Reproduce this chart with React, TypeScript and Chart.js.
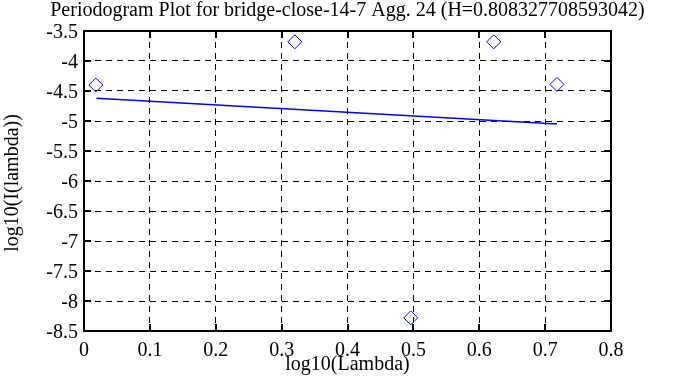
import React, { useEffect, useRef } from "react";
import { Chart, registerables } from "chart.js";

Chart.register(...registerables);

const titleText = "Periodogram Plot for bridge-close-14-7 Agg. 24 (H=0.808327708593042)";
const xAxisTitle = "log10(Lambda)";
const yAxisTitle = "log10(I(lambda))";

const logLambda = [0.018, 0.32, 0.496, 0.622, 0.718];
const logPeriodogram = [-4.4, -3.68, -8.28, -3.68, -4.39];

const fitX = [0.019, 0.718];
const fitY = [-4.62, -5.05];

const xTicks = [0, 0.1, 0.2, 0.3, 0.4, 0.5, 0.6, 0.7, 0.8];
const xTickLabels = ["0", "0.1", "0.2", "0.3", "0.4", "0.5", "0.6", "0.7", "0.8"];
const yTicks = [-8.5, -8, -7.5, -7, -6.5, -6, -5.5, -5, -4.5, -4, -3.5];
const yTickLabels = ["-8.5", "-8", "-7.5", "-7", "-6.5", "-6", "-5.5", "-5", "-4.5", "-4", "-3.5"];

const FONT = "'Liberation Serif', 'Times New Roman', serif";

const framePlugin = {
  id: "frame",
  beforeDraw(chart: any) {
    const ctx = chart.ctx;
    ctx.save();
    ctx.fillStyle = "#ffffff";
    ctx.fillRect(0, 0, chart.width, chart.height);
    ctx.restore();
  },
  afterDraw(chart: any) {
    const ctx = chart.ctx;
    const a = chart.chartArea;
    const xs = chart.scales.x;
    const ys = chart.scales.y;
    ctx.save();
    ctx.strokeStyle = "#000000";
    ctx.lineWidth = 2;
    ctx.strokeRect(a.left, a.top, a.right - a.left, a.bottom - a.top);
    const tl = 7;
    ctx.beginPath();
    xTicks.forEach((v) => {
      const px = Math.round(xs.getPixelForValue(v));
      ctx.moveTo(px, a.bottom);
      ctx.lineTo(px, a.bottom - tl);
      ctx.moveTo(px, a.top);
      ctx.lineTo(px, a.top + tl);
    });
    yTicks.forEach((v) => {
      const py = Math.round(ys.getPixelForValue(v));
      ctx.moveTo(a.left, py);
      ctx.lineTo(a.left + tl, py);
      ctx.moveTo(a.right, py);
      ctx.lineTo(a.right - tl, py);
    });
    ctx.stroke();

    ctx.fillStyle = "#000000";
    ctx.font = `20px ${FONT}`;
    ctx.textBaseline = "alphabetic";

    // tick labels
    ctx.textAlign = "center";
    xTicks.forEach((v, i) => {
      const px = xs.getPixelForValue(v);
      ctx.fillText(xTickLabels[i], px, a.bottom + 25);
    });
    ctx.textAlign = "right";
    yTicks.forEach((v, i) => {
      const py = ys.getPixelForValue(v);
      ctx.fillText(yTickLabels[i], a.left - 6, py + 7);
    });

    // titles
    ctx.textAlign = "center";
    ctx.fillText(titleText, chart.width / 2, 16);
    ctx.fillText(xAxisTitle, (a.left + a.right) / 2, 370);
    ctx.translate(18, (a.top + a.bottom) / 2 + 2);
    ctx.rotate(-Math.PI / 2);
    ctx.fillText(yAxisTitle, 0, 0);
    ctx.restore();
  },
};

export default function App() {
  const ref = useRef<HTMLCanvasElement | null>(null);

  useEffect(() => {
    document.body.style.margin = "0";
    const canvas = ref.current;
    if (!canvas) return;
    const chart = new Chart(canvas, {
      type: "scatter",
      data: {
        datasets: [
          {
            label: "fit",
            type: "line",
            data: fitX.map((x, i) => ({ x, y: fitY[i] })),
            borderColor: "#0000ff",
            borderWidth: 1.5,
            pointRadius: 0,
            fill: false,
          },
          {
            label: "periodogram",
            data: logLambda.map((x, i) => ({ x, y: logPeriodogram[i] })),
            pointStyle: "rectRot",
            pointRadius: 7,
            pointBorderColor: "#0000ff",
            pointBackgroundColor: "rgba(0,0,0,0)",
            pointBorderWidth: 1,
          },
        ],
      },
      options: {
        responsive: false,
        animation: false,
        layout: { padding: { top: 31, right: 84, bottom: 0, left: 0 } },
        plugins: {
          legend: { display: false },
          title: { display: false },
          tooltip: { enabled: false },
        },
        scales: {
          x: {
            type: "linear",
            min: 0,
            max: 0.8,
            afterBuildTicks: (s: any) => {
              s.ticks = xTicks.map((v) => ({ value: v }));
            },
            afterFit: (s: any) => {
              s.height = 56;
            },
            ticks: { display: false },
            grid: {
              color: "#000000",
              lineWidth: 1,
              drawTicks: false,
              tickLength: 0,
            },
            border: { display: false, dash: [6, 5] },
          },
          y: {
            type: "linear",
            min: -8.5,
            max: -3.5,
            afterBuildTicks: (s: any) => {
              s.ticks = yTicks.map((v) => ({ value: v }));
            },
            afterFit: (s: any) => {
              s.width = 84;
            },
            ticks: { display: false },
            grid: {
              color: "#000000",
              lineWidth: 1,
              drawTicks: false,
              tickLength: 0,
            },
            border: { display: false, dash: [6, 5] },
          },
        },
      },
      plugins: [framePlugin],
    });
    return () => chart.destroy();
  }, []);

  return <canvas ref={ref} width={695} height={387} style={{ display: "block" }} />;
}
